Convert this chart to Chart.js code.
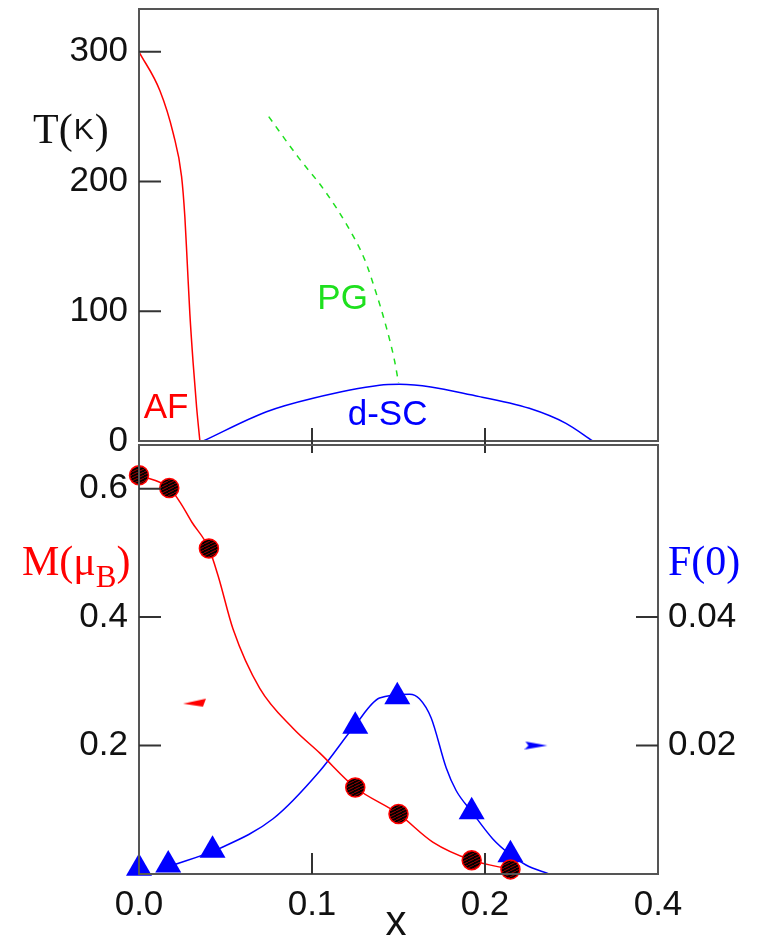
<!DOCTYPE html>
<html>
<head>
<meta charset="utf-8">
<script src="https://cdn.jsdelivr.net/npm/chart.js@4.4.0/dist/chart.umd.min.js"></script>
<style>
  html, body { margin: 0; padding: 0; background: #fff; }
  #wrap { position: relative; width: 760px; height: 937px; overflow: hidden; }
  #top-box { position: absolute; left: 0; top: 0; width: 760px; height: 470px; }
  #bottom-box { position: absolute; left: 0; top: 430px; width: 760px; height: 507px; }
</style>
</head>
<body>
<div id="wrap">
  <div id="top-box"><canvas id="phase-chart"></canvas></div>
  <div id="bottom-box"><canvas id="moment-chart"></canvas></div>
</div>
<script>
// phase diagram lines (top panel), x = doping, T in K
const afX = [0, 0.0121, 0.0198, 0.0246, 0.0265, 0.0279, 0.0294, 0.0313, 0.0333, 0.0352];
const afT = [300, 270, 237, 204, 173, 137, 98, 60, 26, 0];
const pgX = [0.075, 0.0919, 0.1073, 0.1208, 0.1304, 0.1371, 0.1429, 0.1477, 0.150];
const pgT = [250, 219, 193, 165, 140, 114, 88, 62, 45];
const scX = [0.0371, 0.0737, 0.1006, 0.139, 0.1506, 0.1968, 0.2256, 0.2468, 0.2622];
const scT = [0, 22.6, 33, 43, 43.7, 34.2, 25.2, 13.6, 0];

// staggered moment (red circles) and F(0) (blue triangles), bottom panel
const mX = [0, 0.0175, 0.0404, 0.125, 0.150, 0.1923, 0.2147];
const mVal = [0.621, 0.601, 0.507, 0.1347, 0.0936, 0.0216, 0.0072];
const fX = [0, 0.0169, 0.0425, 0.125, 0.1493, 0.1923, 0.2147];
const fVal = [0.0009, 0.0014, 0.0037, 0.0230, 0.0276, 0.0097, 0.0030];

// guide-to-the-eye curves
const mFitX = [0, 0.0175, 0.0237, 0.0304, 0.0404, 0.0458, 0.0544, 0.0698, 0.089, 0.1044, 0.125, 0.150, 0.1698, 0.1923, 0.2147];
const mFitY = [0.621, 0.601, 0.579, 0.5485, 0.507, 0.4637, 0.381, 0.289, 0.227, 0.1886, 0.1347, 0.0936, 0.0498, 0.0216, 0.0072];
const fFitX = [0.0175, 0.0467, 0.0775, 0.1044, 0.125, 0.139, 0.1564, 0.1621, 0.1689, 0.1776, 0.1833, 0.1923, 0.2044, 0.2147, 0.2237, 0.237];
const fFitY = [0.0012, 0.0040, 0.0086, 0.0160, 0.0232, 0.0274, 0.0280, 0.0273, 0.0243, 0.0165, 0.0130, 0.0097, 0.0055, 0.0030, 0.0014, 0];

// axis arrows (which curve belongs to which axis)
const mArrow = [0.0323, 0.2668];
const fArrow = [0.2297, 0.0200];

// ticks
const tTicks = [0, 100, 200, 300];
const xTicks = [0, 0.1, 0.2, 0.3];
const xTickLabels = ['0.0', '0.1', '0.2', '0.4'];
const mTicks = [0.2, 0.4, 0.6];
const fTicks = [0.02, 0.04];

const RED = '#ff0000';
const BLUE = '#0000ff';
const GREEN = '#1ee01e';
const SANS = "'Liberation Sans', Arial, sans-serif";
const SERIF = "'Liberation Serif', 'Times New Roman', serif";

function pairs(xs, ys) {
    return xs.map((x, i) => ({ x: x, y: ys[i] }));
}

// fixed axis boxes so both panels line up
function fixWidth(w) {
    return scale => {
        scale.width = w;
        scale.paddingTop = 0; scale.paddingBottom = 0;
        scale.paddingLeft = 0; scale.paddingRight = 0;
    };
}
function fixHeight(h) {
    return scale => {
        scale.height = h;
        scale.paddingTop = 0; scale.paddingBottom = 0;
        scale.paddingLeft = 0; scale.paddingRight = 0;
    };
}
function useTicks(values) {
    return scale => { scale.ticks = values.map(v => ({ value: v })); };
}

// hatched fill for the circles
const hatch = document.createElement('canvas');
hatch.width = 6; hatch.height = 3;
const hg = hatch.getContext('2d');
hg.fillStyle = '#000';
hg.fillRect(0, 0, 6, 3);
hg.strokeStyle = '#a00000';
hg.lineWidth = 1;
hg.beginPath(); hg.moveTo(0, 3); hg.lineTo(6, 0); hg.stroke();
const hatchFill = hg.createPattern(hatch, 'repeat');

// little arrowheads
function arrowHead(color, left) {
    const c = document.createElement('canvas');
    c.width = 24; c.height = 10;
    const g = c.getContext('2d');
    g.fillStyle = color;
    g.beginPath();
    if (left) {
        g.moveTo(0, 6); g.lineTo(23, 1); g.lineTo(20, 9);
    } else {
        g.moveTo(23, 5); g.lineTo(1, 1); g.lineTo(4, 5); g.lineTo(0, 9);
    }
    g.closePath();
    g.fill();
    return c;
}

const tickFont = { family: SANS, size: 35 };
const noGrid = { display: false, drawTicks: false };

function text(ctx, str, x, y, font, color, align) {
    ctx.font = font;
    ctx.fillStyle = color;
    ctx.textAlign = align || 'left';
    ctx.textBaseline = 'alphabetic';
    ctx.fillText(str, x, y);
    return ctx.measureText(str).width;
}

// frame, inward ticks and labels of the top panel
const phaseDecor = {
    id: 'phaseDecor',
    afterDraw(chart) {
        const { ctx, chartArea: a } = chart;
        const xs = chart.scales.x, ys = chart.scales.y;
        ctx.save();
        ctx.strokeStyle = '#555';
        ctx.lineWidth = 2;
        ctx.strokeRect(a.left, a.top, a.right - a.left, a.bottom - a.top);
        ctx.strokeStyle = '#333';
        ctx.beginPath();
        [100, 200, 300].forEach(v => {
            const p = ys.getPixelForValue(v);
            ctx.moveTo(a.left, p); ctx.lineTo(a.left + 22, p);
        });
        [0.1, 0.2].forEach(v => {
            const p = xs.getPixelForValue(v);
            ctx.moveTo(p, a.bottom - 13); ctx.lineTo(p, a.bottom + 12);
        });
        ctx.stroke();

        ctx.textBaseline = 'middle';
        ctx.textAlign = 'center';
        ctx.font = '35px ' + SANS;
        ctx.fillStyle = RED;
        ctx.fillText('AF', xs.getPixelForValue(0.0156), ys.getPixelForValue(25.4));
        ctx.fillStyle = GREEN;
        ctx.fillText('PG', xs.getPixelForValue(0.1177), ys.getPixelForValue(109.5));
        ctx.fillStyle = BLUE;
        ctx.fillText('d-SC', xs.getPixelForValue(0.1437), ys.getPixelForValue(20));

        // T(K)
        let x = 33;
        const base = ys.getPixelForValue(230);
        x += text(ctx, 'T(', x, base, '42px ' + SERIF, '#111');
        x += text(ctx, 'K', x + 1, base - 4, '30px ' + SANS, '#111') + 2;
        text(ctx, ')', x, base, '42px ' + SERIF, '#111');
        ctx.restore();
    }
};

const momentDecor = {
    id: 'momentDecor',
    afterDraw(chart) {
        const { ctx, chartArea: a } = chart;
        const xs = chart.scales.x, ms = chart.scales.y, fs = chart.scales.y2;
        ctx.save();
        ctx.strokeStyle = '#555';
        ctx.lineWidth = 2;
        ctx.strokeRect(a.left, a.top, a.right - a.left, a.bottom - a.top);
        ctx.strokeStyle = '#333';
        ctx.beginPath();
        mTicks.forEach(v => {
            const p = ms.getPixelForValue(v);
            ctx.moveTo(a.left, p); ctx.lineTo(a.left + 22, p);
        });
        fTicks.forEach(v => {
            const p = fs.getPixelForValue(v);
            ctx.moveTo(a.right, p); ctx.lineTo(a.right - 22, p);
        });
        [0.1, 0.2].forEach(v => {
            const p = xs.getPixelForValue(v);
            ctx.moveTo(p, a.bottom); ctx.lineTo(p, a.bottom - 21);
        });
        ctx.stroke();

        // M(muB)
        const base = ms.getPixelForValue(0.466);
        let x = 22;
        x += text(ctx, 'M(\u03bc', x, base, '42px ' + SERIF, RED);
        x += text(ctx, 'B', x, base + 12, '31px ' + SERIF, RED);
        text(ctx, ')', x, base, '42px ' + SERIF, RED);

        text(ctx, 'F(0)', a.right + 10, base, '42px ' + SERIF, BLUE);

        text(ctx, 'x', xs.getPixelForValue(0.1485), a.bottom + 61, '42px ' + SANS, '#111', 'center');
        ctx.restore();
    }
};

const phaseChart = new Chart(document.getElementById('phase-chart'), {
    type: 'scatter',
    data: {
        datasets: [{
            data: pairs(afX, afT),
            showLine: true,
            borderColor: RED,
            borderWidth: 1.5,
            pointRadius: 0,
            cubicInterpolationMode: 'monotone'
        }, {
            data: pairs(pgX, pgT),
            showLine: true,
            borderColor: GREEN,
            borderWidth: 1.5,
            borderDash: [6, 6],
            pointRadius: 0,
            cubicInterpolationMode: 'monotone'
        }, {
            data: pairs(scX, scT),
            showLine: true,
            borderColor: BLUE,
            borderWidth: 1.5,
            pointRadius: 0,
            cubicInterpolationMode: 'monotone'
        }]
    },
    options: {
        responsive: true,
        maintainAspectRatio: false,
        animation: false,
        layout: { padding: { top: 9, bottom: 29, left: 0, right: 102 } },
        scales: {
            x: {
                type: 'linear',
                display: false,
                min: 0,
                max: 0.3
            },
            y: {
                type: 'linear',
                min: 0,
                max: 333,
                grid: noGrid,
                border: { display: false },
                afterBuildTicks: useTicks(tTicks),
                afterFit: fixWidth(139),
                ticks: { font: tickFont, color: '#111', padding: 11 }
            }
        },
        plugins: {
            legend: { display: false },
            tooltip: { enabled: false }
        }
    },
    plugins: [phaseDecor]
});

const momentChart = new Chart(document.getElementById('moment-chart'), {
    type: 'scatter',
    data: {
        datasets: [{
            data: pairs(mX, mVal),
            yAxisID: 'y',
            pointStyle: 'circle',
            pointRadius: 9.5,
            pointBackgroundColor: hatchFill,
            pointBorderColor: RED,
            pointBorderWidth: 1.5,
            clip: false
        }, {
            data: pairs(fX, fVal),
            yAxisID: 'y2',
            pointStyle: 'triangle',
            pointRadius: 15,
            pointBackgroundColor: BLUE,
            pointBorderWidth: 0,
            clip: false
        }, {
            data: [{ x: mArrow[0], y: mArrow[1] }],
            yAxisID: 'y',
            pointStyle: arrowHead(RED, true)
        }, {
            data: [{ x: fArrow[0], y: fArrow[1] }],
            yAxisID: 'y2',
            pointStyle: arrowHead(BLUE, false)
        }, {
            data: pairs(mFitX, mFitY),
            yAxisID: 'y',
            showLine: true,
            borderColor: RED,
            borderWidth: 1.5,
            pointRadius: 0,
            cubicInterpolationMode: 'monotone'
        }, {
            data: pairs(fFitX, fFitY),
            yAxisID: 'y2',
            showLine: true,
            borderColor: BLUE,
            borderWidth: 1.5,
            pointRadius: 0,
            cubicInterpolationMode: 'monotone'
        }]
    },
    options: {
        responsive: true,
        maintainAspectRatio: false,
        animation: false,
        layout: { padding: { top: 11, bottom: 0, left: 0, right: 0 } },
        scales: {
            x: {
                type: 'linear',
                min: 0,
                max: 0.3,
                grid: noGrid,
                border: { display: false },
                afterBuildTicks: useTicks(xTicks),
                afterFit: fixHeight(63),
                ticks: {
                    font: tickFont,
                    color: '#111',
                    padding: 10,
                    maxRotation: 0,
                    callback: (v, i) => xTickLabels[i]
                }
            },
            y: {
                type: 'linear',
                position: 'left',
                min: 0,
                max: 0.668,
                grid: noGrid,
                border: { display: false },
                afterBuildTicks: useTicks(mTicks),
                afterFit: fixWidth(139),
                ticks: { font: tickFont, color: '#111', padding: 11 }
            },
            y2: {
                type: 'linear',
                position: 'right',
                min: 0,
                max: 0.0668,
                grid: noGrid,
                border: { display: false },
                afterBuildTicks: useTicks(fTicks),
                afterFit: fixWidth(102),
                ticks: { font: tickFont, color: '#111', padding: 10 }
            }
        },
        plugins: {
            legend: { display: false },
            tooltip: { enabled: false }
        }
    },
    plugins: [momentDecor]
});
</script>
</body>
</html>
